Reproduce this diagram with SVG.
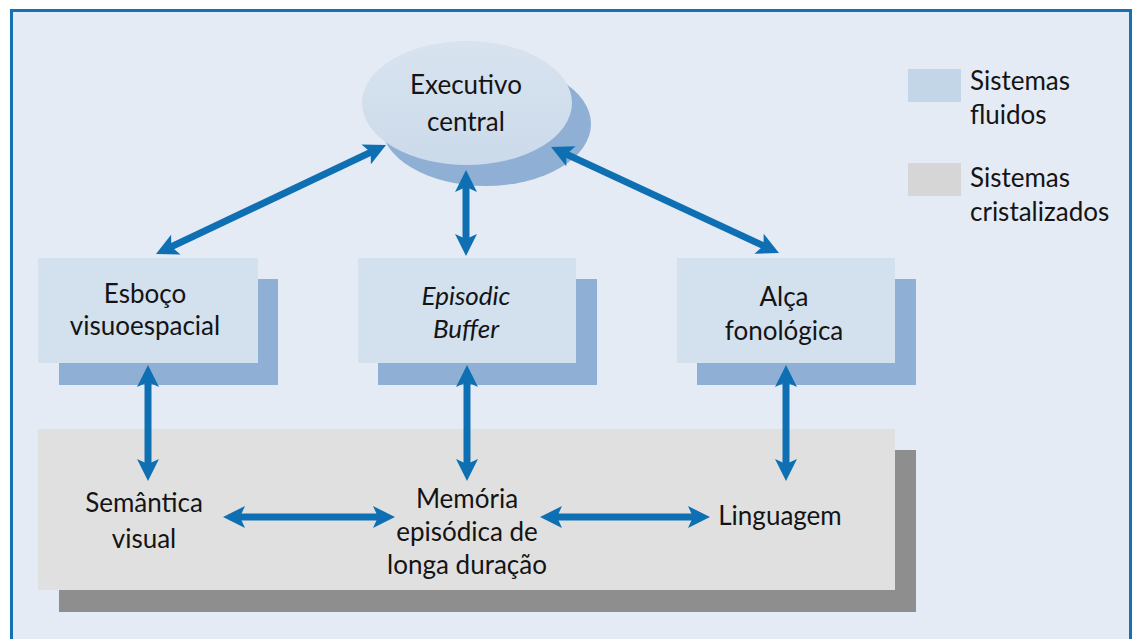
<svg xmlns="http://www.w3.org/2000/svg" width="1133" height="639" viewBox="0 0 1133 639">
  <defs>
    <style>
      .txt { font-family: Lato, "Liberation Sans", sans-serif; font-size: 26px; fill: #141414; text-anchor: middle; }
      .leg { text-anchor: start; }
      .it { font-style: italic; }
      .front { fill: #D3E0EE; }
      .shadow { fill: #8FB0D4; }
      .gfront { fill: #E0E0E0; }
      .gshadow { fill: #8E8E8E; }
      .arr { stroke: #0E70B3; stroke-width: 7; fill: none; marker-start: url(#head); marker-end: url(#head); }
    </style>
    <marker id="head" viewBox="0 0 22 22" refX="10" refY="11" markerWidth="22" markerHeight="22" markerUnits="userSpaceOnUse" orient="auto-start-reverse">
      <path d="M0,0 L22,11 L0,22 L5,11 z" fill="#0E70B3"/>
    </marker>
    <linearGradient id="ellg" x1="0" y1="0" x2="0" y2="1">
      <stop offset="0" stop-color="#D8E3EF"/>
      <stop offset="1" stop-color="#CBDAEA"/>
    </linearGradient>
  </defs>

  <rect x="0" y="0" width="1133" height="639" fill="#FFFFFF"/>
  <rect x="11.5" y="10.5" width="1119" height="640" fill="#E5EBF5" stroke="#1472B2" stroke-width="3"/>

  <g id="legend">
    <rect x="908" y="69" width="53" height="33" fill="#C3D6E8"/>
    <text class="txt leg" x="970" y="90">Sistemas</text>
    <text class="txt leg" x="970" y="124">fluidos</text>
    <rect x="908" y="163" width="53" height="33" fill="#D6D6D6"/>
    <text class="txt leg" x="970" y="187">Sistemas</text>
    <text class="txt leg" x="970" y="221">cristalizados</text>
  </g>

  <g id="memoria-longo-prazo">
    <rect class="gshadow" x="59" y="450" width="857" height="162"/>
    <rect class="gfront" x="38" y="429" width="857" height="161"/>
  </g>

  <g id="executivo-central">
    <ellipse class="shadow" cx="486" cy="124" rx="105" ry="62"/>
    <ellipse cx="467" cy="103" rx="105" ry="62" fill="url(#ellg)"/>
    <text class="txt" x="466" y="94">Executivo</text>
    <text class="txt" x="466" y="131">central</text>
  </g>

  <g id="esboco-visuoespacial">
    <rect class="shadow" x="59" y="279" width="219" height="106"/>
    <rect class="front" x="38" y="258" width="220" height="105"/>
    <text class="txt" x="145" y="303">Esboço</text>
    <text class="txt" x="145" y="335">visuoespacial</text>
  </g>

  <g id="episodic-buffer">
    <rect class="shadow" x="378" y="279" width="219" height="106"/>
    <rect class="front" x="358" y="258" width="218" height="105"/>
    <text class="txt it" x="466" y="305">Episodic</text>
    <text class="txt it" x="466" y="338">Buffer</text>
  </g>

  <g id="alca-fonologica">
    <rect class="shadow" x="697" y="279" width="219" height="106"/>
    <rect class="front" x="677" y="258" width="218" height="105"/>
    <text class="txt" x="784" y="306">Alça</text>
    <text class="txt" x="784" y="340">fonológica</text>
  </g>

  <g id="semantica-visual">
    <text class="txt" x="144" y="512">Semântica</text>
    <text class="txt" x="144" y="548">visual</text>
  </g>

  <g id="memoria-episodica">
    <text class="txt" x="467" y="508">Memória</text>
    <text class="txt" x="467" y="541">episódica de</text>
    <text class="txt" x="467" y="574">longa duração</text>
  </g>

  <g id="linguagem">
    <text class="txt" x="780" y="525">Linguagem</text>
  </g>

  <g id="connectors">
    <line class="arr" x1="166.8" y1="248.9" x2="375.2" y2="150.1"/>
    <line class="arr" x1="561.9" y1="152.1" x2="768.1" y2="247.9"/>
    <line class="arr" x1="466" y1="182" x2="466" y2="244"/>
    <line class="arr" x1="148" y1="377" x2="148" y2="469"/>
    <line class="arr" x1="467" y1="377" x2="467" y2="469"/>
    <line class="arr" x1="786" y1="377" x2="786" y2="469"/>
    <line class="arr" x1="235" y1="517" x2="383" y2="517"/>
    <line class="arr" x1="552" y1="517" x2="698" y2="517"/>
  </g>
</svg>
